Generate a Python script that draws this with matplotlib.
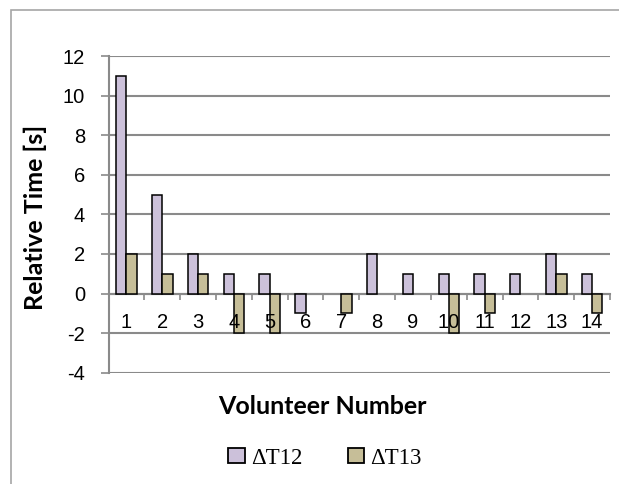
import matplotlib
matplotlib.use("Agg")
import matplotlib.pyplot as plt
import numpy as np
from matplotlib.patches import Patch, Rectangle

# Per-volunteer timing differences
volunteers = ["1", "2", "3", "4", "5", "6", "7", "8", "9", "10", "11", "12", "13", "14"]
dt12 = [11, 5, 2, 1, 1, -1, 0, 2, 1, 1, 1, 1, 2, 1]
dt13 = [2, 1, 1, -2, -2, 0, -1, 0, 0, -2, -1, 0, 1, -1]
series_names = ["\u0394T12", "\u0394T13"]
y_ticks = [-4, -2, 0, 2, 4, 6, 8, 10, 12]

c12 = "#CCC1DA"
c13 = "#C6BE98"
grid_c = "#8A8A8A"

W, H = 619, 484
fig = plt.figure(figsize=(W / 100, H / 100), dpi=100)

# chart-area frame (only left and top edges fall inside the image)
fig.patches.append(Rectangle((11 / W, -0.2), 1.5, 1.2 - 10 / H,
                             transform=fig.transFigure, fill=False,
                             edgecolor="#A6A6A6", linewidth=1.2, zorder=0))

ax = fig.add_axes([108.5 / W, 111.3 / H, 501.5 / W, 316.7 / H])
ax.set_axisbelow(False)

x = np.arange(1, len(volunteers) + 1)
bw = 0.287


def edges(vals):
    return ["black" if v != 0 else "none" for v in vals]


ax.bar(x - bw / 2, dt12, width=bw, color=c12, edgecolor=edges(dt12), linewidth=1.1, zorder=1)
ax.bar(x + bw / 2, dt13, width=bw, color=c13, edgecolor=edges(dt13), linewidth=1.1, zorder=1)

ax.set_xlim(0.5, len(volunteers) + 0.5)
ax.set_ylim(-4, 12)

# horizontal gridlines behind the bars
for yv in y_ticks:
    ax.axhline(yv, color=grid_c, linewidth=1.5, zorder=0.5)

ax.set_yticks(y_ticks)
ax.set_yticklabels([str(v) for v in y_ticks], fontsize=14.5, family="Liberation Sans")
ax.tick_params(axis="y", length=6, width=1.2, color=grid_c, pad=11)

ax.spines["top"].set_visible(False)
ax.spines["right"].set_visible(False)
ax.spines["left"].set_color(grid_c)
ax.spines["left"].set_linewidth(1.5)
ax.spines["bottom"].set_position(("data", 0))
ax.spines["bottom"].set_color(grid_c)
ax.spines["bottom"].set_linewidth(1.5)
ax.spines["bottom"].set_zorder(0.6)

ax.set_xticks(x)
ax.set_xticklabels(volunteers, fontsize=14.5, family="Liberation Sans")
ax.set_xticks(np.arange(0.5, len(volunteers) + 1, 1.0), minor=True)
ax.tick_params(axis="x", which="major", length=0, pad=14)
ax.tick_params(axis="x", which="minor", length=4, width=1.2, color=grid_c, direction="out")

fig.text(35 / W, 1 - 217 / H, "Relative Time [s]", rotation=90, ha="center", va="center",
         fontsize=18, fontweight="bold", family="Lato")
fig.text(322 / W, 1 - 406 / H, "Volunteer Number", ha="center", va="center",
         fontsize=18, fontweight="bold", family="Lato")

handles = [Patch(facecolor=c12, edgecolor="black", linewidth=1.3),
           Patch(facecolor=c13, edgecolor="black", linewidth=1.3)]
fig.legend(handles, series_names, loc="center", bbox_to_anchor=(325 / W, 1 - 458 / H),
           ncol=2, frameon=False, prop={"family": "Liberation Serif", "size": 16.5},
           handlelength=0.72, handleheight=0.62, handletextpad=0.25, columnspacing=2.0)

fig.savefig("out.png", dpi=100)
